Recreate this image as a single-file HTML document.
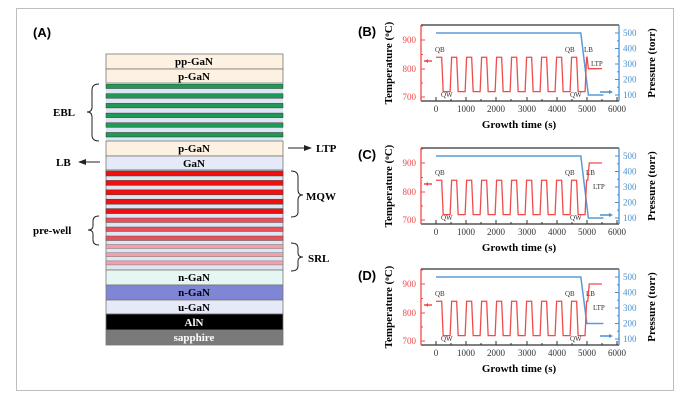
<!DOCTYPE html>
<html><head><meta charset="utf-8"><style>
html,body{margin:0;padding:0;background:#fff;}
svg{display:block;}
.s{font-family:"Liberation Serif",serif;}
</style></head><body>
<svg width="684" height="401" viewBox="0 0 684 401" xmlns="http://www.w3.org/2000/svg">
<rect x="16.5" y="8.5" width="657" height="382" fill="#fff" stroke="#bdbdbd" stroke-width="1"/>
<text x="33" y="37" font-family="Liberation Sans,sans-serif" font-weight="bold" font-size="13">(A)</text>

<!-- stack -->
<g stroke="#777" stroke-width="0.8">
<rect x="106" y="54" width="177" height="15" fill="#fdf2e2"/>
<rect x="106" y="69" width="177" height="14" fill="#fdf2e2"/>
</g>
<g>
<rect x="106" y="83" width="177" height="58" fill="#dde6f2"/>
<g fill="#1f9a55" stroke="#333" stroke-width="0.5">
<rect x="106" y="84" width="177" height="4.5"/>
<rect x="106" y="93.7" width="177" height="4.5"/>
<rect x="106" y="103.4" width="177" height="4.5"/>
<rect x="106" y="113.1" width="177" height="4.5"/>
<rect x="106" y="122.8" width="177" height="4.5"/>
<rect x="106" y="132.5" width="177" height="4.5"/>
</g>
</g>
<g stroke="#777" stroke-width="0.8">
<rect x="106" y="141" width="177" height="15" fill="#fdf2e2"/>
<rect x="106" y="156" width="177" height="14" fill="#e6e9f8"/>
<rect x="106" y="170" width="177" height="100" fill="#dde6f2"/>
</g>
<g fill="#f01010" stroke="#444" stroke-width="0.5">
<rect x="106" y="171" width="177" height="5"/>
<rect x="106" y="180.4" width="177" height="5"/>
<rect x="106" y="189.8" width="177" height="5"/>
<rect x="106" y="199.2" width="177" height="5"/>
<rect x="106" y="208.6" width="177" height="5"/>
</g>
<g fill="#e8505c" stroke="#555" stroke-width="0.5">
<rect x="106" y="218" width="177" height="4.5"/>
<rect x="106" y="227" width="177" height="4.5"/>
<rect x="106" y="236" width="177" height="4.5"/>
</g>
<g fill="#f4a0aa" stroke="#777" stroke-width="0.5">
<rect x="106" y="244.5" width="177" height="4"/>
<rect x="106" y="252.7" width="177" height="4"/>
<rect x="106" y="260.9" width="177" height="4"/>
</g>
<g stroke="#777" stroke-width="0.8">
<rect x="106" y="270" width="177" height="15" fill="#e6f6f2"/>
<rect x="106" y="285" width="177" height="15" fill="#7f86d6"/>
<rect x="106" y="300" width="177" height="14" fill="#e6e9f8"/>
<rect x="106" y="314" width="177" height="16" fill="#000"/>
<rect x="106" y="330" width="177" height="15" fill="#7a7a7a"/>
</g>
<g class="s" font-weight="bold" font-size="11" text-anchor="middle">
<text x="194" y="65">pp-GaN</text>
<text x="194" y="80">p-GaN</text>
<text x="194" y="152">p-GaN</text>
<text x="194" y="167">GaN</text>
<text x="194" y="281">n-GaN</text>
<text x="194" y="296">n-GaN</text>
<text x="194" y="311">u-GaN</text>
<text x="194" y="326" fill="#fff">AlN</text>
<text x="194" y="341" fill="#fff">sapphire</text>
</g>
<!-- braces -->
<g fill="none" stroke="#222" stroke-width="1">
<path d="M99,84 Q92,84 92,90 L92,107 Q92,112 87,112 Q92,112 92,117 L92,135 Q92,141 99,141"/>
<path d="M99,216 Q93,216 93,221 L93,226 Q93,230 88,230 Q93,230 93,234 L93,240 Q93,245 99,245"/>
<path d="M291,171 Q298,171 298,177 L298,190 Q298,195 303,195 Q298,195 298,200 L298,212 Q298,217 291,217"/>
<path d="M291,243 Q298,243 298,248 L298,253 Q298,257 303,257 Q298,257 298,261 L298,266 Q298,271 291,271"/>
<path d="M288,148 L305,148"/>
<path d="M100,162 L84,162"/>
</g>
<path d="M312,148 L304,145 L304,151Z" fill="#222"/>
<path d="M78,162 L86,159 L86,165Z" fill="#222"/>
<g class="s" font-weight="bold" font-size="11">
<text x="53" y="116">EBL</text>
<text x="33" y="234">pre-well</text>
<text x="306" y="200">MQW</text>
<text x="308" y="262">SRL</text>
<text x="316" y="152">LTP</text>
<text x="56" y="166">LB</text>
</g>

<!-- chart template B -->
<g id="B">
<g class="s">
<rect x="421" y="25" width="198" height="76" fill="none"/>
<line x1="421" y1="25" x2="619" y2="25" stroke="#333" stroke-width="1.2"/>
<line x1="421" y1="101" x2="619" y2="101" stroke="#333" stroke-width="1.2"/>
<line x1="421" y1="25" x2="421" y2="101" stroke="#f24848" stroke-width="1.3"/>
<line x1="619" y1="25" x2="619" y2="101" stroke="#4a90d0" stroke-width="1.3"/>
<g stroke="#f24848" stroke-width="1">
<line x1="421" y1="40" x2="425" y2="40"/><line x1="421" y1="69" x2="425" y2="69"/><line x1="421" y1="97" x2="425" y2="97"/>
<line x1="421" y1="54.5" x2="423" y2="54.5"/><line x1="421" y1="83" x2="423" y2="83"/><line x1="421" y1="26" x2="423" y2="26"/>
</g>
<g stroke="#4a90d0" stroke-width="1">
<line x1="615" y1="33" x2="619" y2="33"/><line x1="615" y1="48.5" x2="619" y2="48.5"/><line x1="615" y1="64" x2="619" y2="64"/><line x1="615" y1="79.5" x2="619" y2="79.5"/><line x1="615" y1="95" x2="619" y2="95"/>
<line x1="617" y1="40.8" x2="619" y2="40.8"/><line x1="617" y1="56.2" x2="619" y2="56.2"/><line x1="617" y1="71.8" x2="619" y2="71.8"/><line x1="617" y1="87.2" x2="619" y2="87.2"/>
</g>
<g stroke="#333" stroke-width="1">
<line x1="436" y1="101" x2="436" y2="97"/><line x1="466" y1="101" x2="466" y2="97"/><line x1="496" y1="101" x2="496" y2="97"/><line x1="527" y1="101" x2="527" y2="97"/><line x1="557" y1="101" x2="557" y2="97"/><line x1="587" y1="101" x2="587" y2="97"/><line x1="617" y1="101" x2="617" y2="97"/>
<line x1="451" y1="101" x2="451" y2="99"/><line x1="481" y1="101" x2="481" y2="99"/><line x1="511" y1="101" x2="511" y2="99"/><line x1="542" y1="101" x2="542" y2="99"/><line x1="572" y1="101" x2="572" y2="99"/><line x1="602" y1="101" x2="602" y2="99"/>
</g>
<g font-size="9" fill="#f24848" text-anchor="end">
<text x="416" y="43">900</text><text x="416" y="72">800</text><text x="416" y="100">700</text>
</g>
<g font-size="9" fill="#4a90d0">
<text x="623" y="36">500</text><text x="623" y="51.5">400</text><text x="623" y="67">300</text><text x="623" y="82.5">200</text><text x="623" y="98">100</text>
</g>
<g font-size="9" fill="#333" text-anchor="middle">
<text x="436" y="112">0</text><text x="466" y="112">1000</text><text x="496" y="112">2000</text><text x="527" y="112">3000</text><text x="557" y="112">4000</text><text x="587" y="112">5000</text><text x="617" y="112">6000</text>
</g>
<text x="519" y="128" font-size="11" font-weight="bold" text-anchor="middle">Growth time (s)</text>
<text transform="translate(392,63) rotate(-90)" font-size="11" font-weight="bold" text-anchor="middle">Temperature (<tspan font-size="7" dy="-3">o</tspan><tspan dy="3">C)</tspan></text>
<text transform="translate(655,63) rotate(-90)" font-size="11" font-weight="bold" text-anchor="middle">Pressure (torr)</text>
<g font-size="7" fill="#333">
<text x="435" y="52">QB</text><text x="441" y="97">QW</text><text x="565" y="52">QB</text><text x="570" y="97">QW</text>
</g>
</g>
<line x1="424" y1="61" x2="432" y2="61" stroke="#f24848" stroke-width="1.5"/>
<path d="M425,61 l3,-2 v4z" fill="#f24848"/>
<line x1="600" y1="92" x2="610" y2="92" stroke="#4a90d0" stroke-width="1.5"/>
<path d="M613,92 l-4,-2 v4z" fill="#4a90d0"/>
</g>
<text x="358" y="36" font-family="Liberation Sans,sans-serif" font-weight="bold" font-size="13">(B)</text>
<path transform="matrix(0.03017,0,0,-0.155,436,110.5)" vector-effect="non-scaling-stroke" fill="none" stroke="#5a9ad6" stroke-width="1.5" d="M0,500 L4800,500 L5050,100 L5550,100"/>
<path transform="matrix(0.03017,0,0,-0.287,436,298.3)" vector-effect="non-scaling-stroke" fill="none" stroke="#f04b4b" stroke-width="1.3" d="M0,840 L188,840 L238,720 L468,720 L518,840 L685,840 L735,720 L965,720 L1015,840 L1182,840 L1232,720 L1462,720 L1512,840 L1679,840 L1729,720 L1959,720 L2009,840 L2176,840 L2226,720 L2456,720 L2506,840 L2673,840 L2723,720 L2953,720 L3003,840 L3170,840 L3220,720 L3450,720 L3500,840 L3667,840 L3717,720 L3947,720 L3997,840 L4164,840 L4214,720 L4444,720 L4494,840 L4661,840 L4711,720 L4941,720 L4991,840 L5010,840 L5050,800 L5500,800"/>
<g class="s" font-size="7" fill="#333"><text x="584" y="52">LB</text><text x="591" y="66">LTP</text></g>

<!-- C -->
<g transform="translate(0,123)">
<use href="#B"/>
<text x="358" y="36" font-family="Liberation Sans,sans-serif" font-weight="bold" font-size="13">(C)</text>
<path transform="matrix(0.03017,0,0,-0.155,436,110.5)" vector-effect="non-scaling-stroke" fill="none" stroke="#5a9ad6" stroke-width="1.5" d="M0,500 L4800,500 L5050,100 L5550,100"/>
<path transform="matrix(0.03017,0,0,-0.287,436,298.3)" vector-effect="non-scaling-stroke" fill="none" stroke="#f04b4b" stroke-width="1.3" d="M0,840 L188,840 L238,720 L468,720 L518,840 L685,840 L735,720 L965,720 L1015,840 L1182,840 L1232,720 L1462,720 L1512,840 L1679,840 L1729,720 L1959,720 L2009,840 L2176,840 L2226,720 L2456,720 L2506,840 L2673,840 L2723,720 L2953,720 L3003,840 L3170,840 L3220,720 L3450,720 L3500,840 L3667,840 L3717,720 L3947,720 L3997,840 L4164,840 L4214,720 L4444,720 L4494,840 L4661,840 L4711,720 L4941,720 L4991,840 L5030,840 L5080,900 L5500,900"/>
<g class="s" font-size="7" fill="#333"><text x="586" y="52">LB</text><text x="593" y="66">LTP</text></g>
</g>

<!-- D -->
<g transform="translate(0,244)">
<use href="#B"/>
<text x="358" y="36" font-family="Liberation Sans,sans-serif" font-weight="bold" font-size="13">(D)</text>
<path transform="matrix(0.03017,0,0,-0.155,436,110.5)" vector-effect="non-scaling-stroke" fill="none" stroke="#5a9ad6" stroke-width="1.5" d="M0,500 L4800,500 L5000,200 L5550,200"/>
<path transform="matrix(0.03017,0,0,-0.287,436,298.3)" vector-effect="non-scaling-stroke" fill="none" stroke="#f04b4b" stroke-width="1.3" d="M0,840 L188,840 L238,720 L468,720 L518,840 L685,840 L735,720 L965,720 L1015,840 L1182,840 L1232,720 L1462,720 L1512,840 L1679,840 L1729,720 L1959,720 L2009,840 L2176,840 L2226,720 L2456,720 L2506,840 L2673,840 L2723,720 L2953,720 L3003,840 L3170,840 L3220,720 L3450,720 L3500,840 L3667,840 L3717,720 L3947,720 L3997,840 L4164,840 L4214,720 L4444,720 L4494,840 L4661,840 L4711,720 L4941,720 L4991,840 L5030,840 L5080,900 L5500,900"/>
<g class="s" font-size="7" fill="#333"><text x="586" y="52">LB</text><text x="593" y="66">LTP</text></g>
</g>
</svg>
</body></html>
